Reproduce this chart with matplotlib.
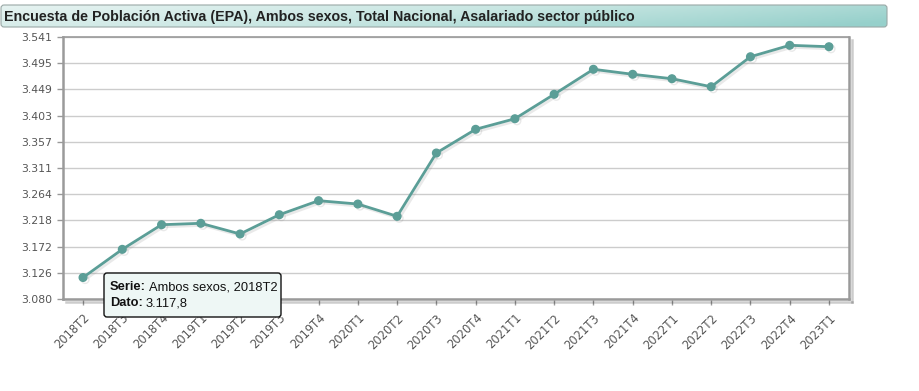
import numpy as np
import matplotlib
matplotlib.use("Agg")
import matplotlib.pyplot as plt
import matplotlib.patheffects as pe
from matplotlib.patches import FancyBboxPatch
from matplotlib.colors import LinearSegmentedColormap

title = "Encuesta de Población Activa (EPA), Ambos sexos, Total Nacional, Asalariado sector público"

periods = ["2018T2", "2018T3", "2018T4", "2019T1", "2019T2", "2019T3", "2019T4",
           "2020T1", "2020T2", "2020T3", "2020T4", "2021T1", "2021T2", "2021T3",
           "2021T4", "2022T1", "2022T2", "2022T3", "2022T4", "2023T1"]
values = [3117.8, 3167.4, 3210.7, 3213.2, 3194.4, 3228.3, 3253.0,
          3247.1, 3225.5, 3336.9, 3378.6, 3397.2, 3440.2, 3484.2,
          3475.4, 3467.6, 3453.5, 3506.3, 3526.4, 3523.9]

ytick_vals = [3080, 3126.1, 3172.2, 3218.3, 3264.4, 3310.5, 3356.6, 3402.7, 3448.8, 3494.9, 3541]
ytick_labels = ["3.080", "3.126", "3.172", "3.218", "3.264", "3.311",
                "3.357", "3.403", "3.449", "3.495", "3.541"]

tooltip_serie = "Ambos sexos, 2018T2"
tooltip_dato = "3.117,8"

line_col = "#5b9e97"
W, H = 920, 391

fig = plt.figure(figsize=(W / 100, H / 100), dpi=100)

# header bar with gradient
hx0, hx1, hy0, hy1 = 1, 887, 5, 27
hax = fig.add_axes([0, 0, 1, 1], zorder=0)
hax.set_xlim(0, W)
hax.set_ylim(H, 0)
hax.axis("off")
cmap = LinearSegmentedColormap.from_list("hdr", ["#e6f3f1", "#c8e6e2", "#96d0cb"])
grad = np.linspace(0, 1, 256)[None, :] * 0.8 + np.linspace(0, 0.25, 32)[:, None]
im = hax.imshow(grad, cmap=cmap, vmin=0, vmax=1, aspect="auto",
                extent=(hx0, hx1, hy1, hy0), zorder=1)
box = FancyBboxPatch((hx0, hy0), hx1 - hx0, hy1 - hy0,
                     boxstyle="round,pad=0,rounding_size=3",
                     fc="none", ec="#9aa8a6", lw=0.8, zorder=2)
hax.add_patch(box)
im.set_clip_path(box)
hax.text(4, (hy0 + hy1) / 2 + 0.5, title, fontsize=10.3, fontweight="bold",
         color="#222222", va="center", ha="left", family="Liberation Sans", zorder=3)

# main chart
ax = fig.add_axes([63 / W, (H - 299) / H, 786 / W, 262 / H], zorder=1)
x = np.arange(len(values))
ax.plot(x, values, color=line_col, lw=2, marker="o", ms=5.5, mec=line_col, mfc=line_col,
        zorder=3, clip_on=False,
        path_effects=[pe.SimpleLineShadow(offset=(1.5, -1.5), shadow_color="#888888", alpha=0.18),
                      pe.Normal()])
ax.set_xlim(-0.51, len(values) - 1 + 0.51)
ax.set_ylim(ytick_vals[0], ytick_vals[-1])
ax.set_yticks(ytick_vals)
ax.set_yticklabels(ytick_labels)
ax.set_xticks(x)
ax.set_xticklabels(periods, rotation=45, ha="right", rotation_mode="anchor", fontsize=8.3)
ax.tick_params(axis="both", colors="#999999", labelcolor="#555555",
               length=4, width=1, direction="out")
ax.tick_params(axis="y", labelsize=7.8)
ax.tick_params(axis="x", pad=5)
ax.grid(axis="y", color="#cccccc", lw=1)
ax.set_axisbelow(True)
for s in ["left", "bottom", "right", "top"]:
    ax.spines[s].set_color("#9a9a9a")
ax.spines["left"].set_linewidth(1.8)
ax.spines["bottom"].set_linewidth(1.8)
ax.spines["right"].set_linewidth(1.8)
ax.spines["top"].set_linewidth(1.2)
ax.spines["right"].set_path_effects([pe.SimpleLineShadow(offset=(2, -2), alpha=0.2), pe.Normal()])
ax.spines["bottom"].set_path_effects([pe.SimpleLineShadow(offset=(2, -2), alpha=0.2), pe.Normal()])

# tooltip
tx0, ty0, tx1, ty1 = 104, 273, 281, 317
tip = FancyBboxPatch((tx0, ty0), tx1 - tx0, ty1 - ty0,
                     boxstyle="round,pad=0,rounding_size=3",
                     fc="#eef7f5", ec="#111111", lw=1, zorder=5)
hax2 = fig.add_axes([0, 0, 1, 1], zorder=5)
hax2.set_xlim(0, W)
hax2.set_ylim(H, 0)
hax2.axis("off")
hax2.add_patch(tip)
fig.canvas.draw()
r = fig.canvas.get_renderer()
for i, (lab, val) in enumerate([("Serie:", tooltip_serie), ("Dato:", tooltip_dato)]):
    yy = 287 + i * 16
    t1 = hax2.text(110, yy, lab, fontsize=9.3, fontweight="bold", color="#111111",
                   va="center", ha="left", family="Liberation Sans", zorder=6)
    bb = t1.get_window_extent(renderer=r)
    hax2.text(110 + bb.width + 3, yy, val, fontsize=9.3, color="#111111",
              va="center", ha="left", family="Liberation Sans", zorder=6)

fig.savefig("out.png", dpi=100)
